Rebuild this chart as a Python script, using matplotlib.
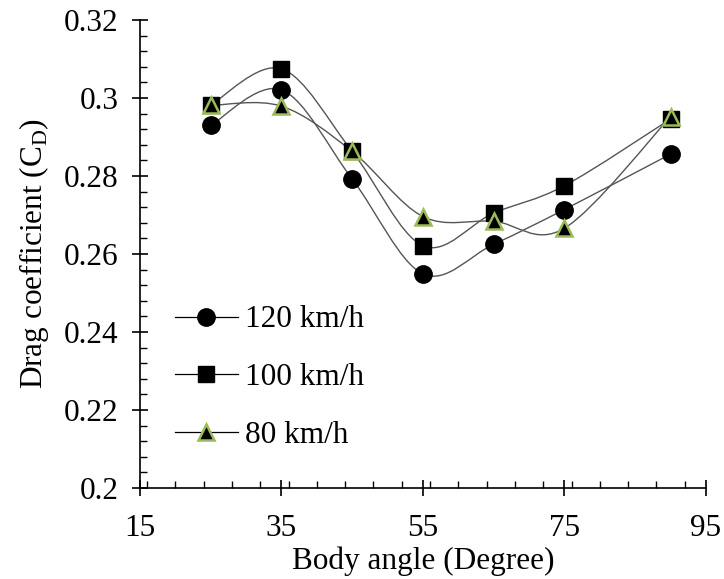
import matplotlib
matplotlib.use("Agg")
import matplotlib.pyplot as plt
import numpy as np
from matplotlib.path import Path
from matplotlib.patches import PathPatch
from matplotlib.lines import Line2D
from matplotlib.ticker import MultipleLocator

plt.rcParams['font.family'] = ['Liberation Serif', 'DejaVu Serif']
plt.rcParams['mathtext.fontset'] = 'custom'
plt.rcParams['mathtext.rm'] = 'Liberation Serif'

angles = [25, 35, 45, 55, 65, 75, 90]
cd_120 = [0.2930, 0.3021, 0.2792, 0.2549, 0.2625, 0.2714, 0.2856]
cd_100 = [0.2982, 0.3075, 0.2863, 0.2621, 0.2705, 0.2775, 0.2946]
cd_80 = [0.2981, 0.2979, 0.2863, 0.2696, 0.2684, 0.2666, 0.2952]
labels = ['120 km/h', '100 km/h', '80 km/h']

LINE_C = '#555555'
GREEN = '#9bbb59'
FS = 22.5


def smooth_path(x, y):
    # excel-style smoothed line: cubic bezier segments, control points from neighbours
    p = np.column_stack([x, y]).astype(float)
    n = len(p)
    verts = [p[0]]
    codes = [Path.MOVETO]
    for i in range(n - 1):
        prev = p[max(i - 1, 0)]
        nxt = p[min(i + 2, n - 1)]
        c1 = p[i] + (p[i + 1] - prev) / 6.0
        c2 = p[i + 1] - (nxt - p[i]) / 6.0
        verts += [c1, c2, p[i + 1]]
        codes += [Path.CURVE4] * 3
    return Path(verts, codes)


fig = plt.figure(figsize=(7.24, 5.79), dpi=100)
ax = fig.add_axes([0.1934, 0.1572, 0.7816, 0.8083])

styles = [
    dict(marker='o', markersize=12.5, markerfacecolor='black', markeredgecolor='black'),
    dict(marker='s', markersize=11, markerfacecolor='black', markeredgecolor='black'),
    dict(marker='^', markersize=12, markerfacecolor='black', markeredgecolor=GREEN, markeredgewidth=1.8),
]

for ys in [cd_120, cd_100, cd_80]:
    ax.add_patch(PathPatch(smooth_path(angles, ys), facecolor='none',
                           edgecolor=LINE_C, lw=1.0, zorder=2))

for ys, st in zip([cd_120, cd_100, cd_80], styles):
    ax.plot(angles, ys, ls='none', zorder=3, **st)

handles = [Line2D([0], [0], color='black', lw=0.9, **st) for st in styles]
ax.legend(handles, labels, loc='upper left', bbox_to_anchor=(0.062, 0.39),
          frameon=False, fontsize=FS, handlelength=2.0, handletextpad=0.25,
          labelspacing=0.92, borderpad=0, borderaxespad=0)

ax.set_xlim(15, 95)
ax.set_ylim(0.2, 0.32)
ax.set_xticks([15, 35, 55, 75, 95])
ax.set_yticks([0.2, 0.22, 0.24, 0.26, 0.28, 0.3, 0.32])
ax.set_yticklabels(['0.2', '0.22', '0.24', '0.26', '0.28', '0.3', '0.32'])
ax.xaxis.set_minor_locator(MultipleLocator(4))
ax.yaxis.set_minor_locator(MultipleLocator(0.004))

for side in ['top', 'right']:
    ax.spines[side].set_visible(False)
for side in ['left', 'bottom']:
    ax.spines[side].set_linewidth(1.2)

ax.tick_params(axis='both', which='major', direction='inout', length=11,
               width=1.2, labelsize=FS)
ax.tick_params(axis='both', which='minor', direction='in', length=5, width=1.0)
ax.tick_params(axis='y', which='major', pad=10)
ax.tick_params(axis='x', which='major', pad=13)

ax.set_xlabel('Body angle (Degree)', fontsize=FS, labelpad=3)
ax.set_ylabel(r'Drag coefficient (C$_\mathrm{D}$)', fontsize=FS, labelpad=9)

fig.savefig('out.png', dpi=100)
